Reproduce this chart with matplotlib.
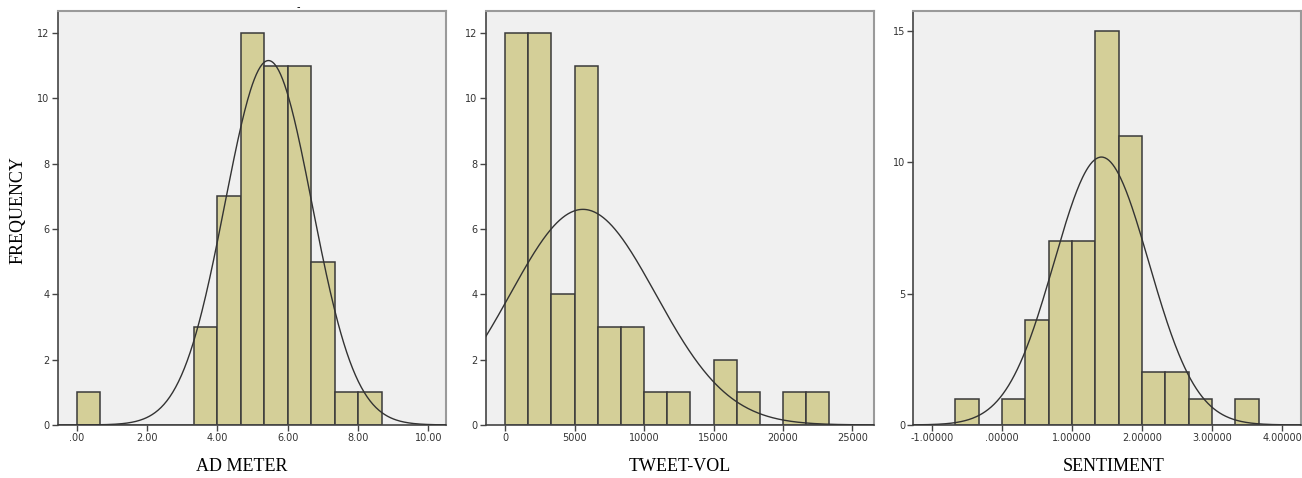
import numpy as np
import matplotlib.pyplot as plt

# histogram data (52 cases each)
ad_start, ad_width = 0.0, 2 / 3
ad_counts = [1, 0, 0, 0, 0, 3, 7, 12, 11, 11, 5, 1, 1]
ad_mean, ad_sd = 5.45, 1.24

tw_start, tw_width = 0.0, 5000 / 3
tw_counts = [12, 12, 4, 11, 3, 3, 1, 1, 0, 2, 1, 0, 1, 1]
tw_mean, tw_sd = 5600, 5240

se_start, se_width = -2 / 3, 1 / 3
se_counts = [1, 0, 1, 4, 7, 7, 15, 11, 2, 2, 1, 0, 1]
se_mean, se_sd = 1.42, 0.678

ad_xticks = [0, 2, 4, 6, 8, 10]
ad_xlabels = [".00", "2.00", "4.00", "6.00", "8.00", "10.00"]
tw_xticks = [0, 5000, 10000, 15000, 20000, 25000]
tw_xlabels = ["0", "5000", "10000", "15000", "20000", "25000"]
se_xticks = [-1, 0, 1, 2, 3, 4]
se_xlabels = ["-1.00000", ".00000", "1.00000", "2.00000", "3.00000", "4.00000"]

BAR = "#d4cf98"
EDGE = "#3a3a3a"
BG = "#f0f0f0"
FRAME = "#9a9a9a"

fig = plt.figure(figsize=(13.02, 4.78), dpi=100)

panels = [
    (0.0445, ad_start, ad_width, ad_counts, ad_mean, ad_sd, (-0.54, 10.5), (0, 12.67),
     ad_xticks, ad_xlabels, [0, 2, 4, 6, 8, 10, 12], "AD METER", 0.186),
    (0.373, tw_start, tw_width, tw_counts, tw_mean, tw_sd, (-1406, 26530), (0, 12.67),
     tw_xticks, tw_xlabels, [0, 2, 4, 6, 8, 10, 12], "TWEET-VOL", 0.522),
    (0.7015, se_start, se_width, se_counts, se_mean, se_sd, (-1.268, 4.277), (0, 15.76),
     se_xticks, se_xlabels, [0, 5, 10, 15], "SENTIMENT", 0.855),
]

for left, start, width, counts, mu, sd, xl, yl, xt, xtl, yt, name, lx in panels:
    ax = fig.add_axes([left, 0.111, 0.298, 0.866])
    ax.set_facecolor(BG)
    lefts = start + width * np.arange(len(counts))
    ax.bar(lefts, counts, width=width, align="edge", color=BAR,
           edgecolor=EDGE, linewidth=1.1, zorder=2)
    xs = np.linspace(xl[0], xl[1], 400)
    n = sum(counts)
    ys = n * width / (sd * np.sqrt(2 * np.pi)) * np.exp(-0.5 * ((xs - mu) / sd) ** 2)
    ax.plot(xs, ys, color="#333333", linewidth=1.0, zorder=3)
    ax.set_xlim(xl)
    ax.set_ylim(yl)
    ax.set_xticks(xt)
    ax.set_xticklabels(xtl)
    ax.set_yticks(yt)
    ax.tick_params(direction="out", length=4, width=1, color="#444444",
                   labelsize=7, labelcolor="#333333", pad=2)
    for s in ["top", "right"]:
        ax.spines[s].set_color(FRAME)
        ax.spines[s].set_linewidth(1.5)
    for s in ["left", "bottom"]:
        ax.spines[s].set_color("#444444")
        ax.spines[s].set_linewidth(1.2)
    fig.text(lx, 0.025, name, family="Liberation Serif", fontsize=13,
             ha="center", va="center")

fig.text(0.014, 0.56, "FREQUENCY", rotation=90, family="Liberation Serif",
         fontsize=13, ha="center", va="center")
fig.text(0.229, 0.985, "-", fontsize=7, ha="center", va="center")

plt.savefig("out.png", dpi=100)
